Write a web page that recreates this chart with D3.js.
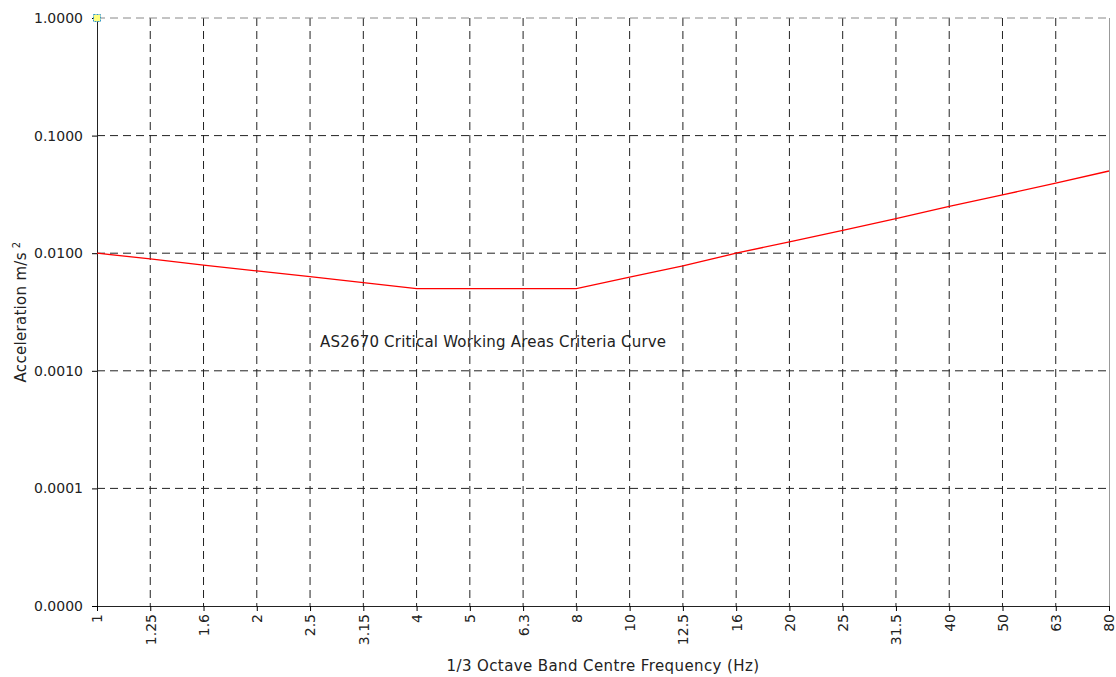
<!DOCTYPE html>
<html lang="en">
<head>
<meta charset="utf-8">
<title>AS2670 Criteria Curve</title>
<script src="https://d3js.org/d3.v7.min.js"></script>
<style>
  body { margin: 0; background: #fff; }
  text { font-family: "DejaVu Sans", sans-serif; fill: #222; }
</style>
</head>
<body>
<script>
// 1/3 octave band centre frequencies (Hz)
var freqs = ["1", "1.25", "1.6", "2", "2.5", "3.15", "4", "5", "6.3", "8",
             "10", "12.5", "16", "20", "25", "31.5", "40", "50", "63", "80"];

// AS2670 critical working areas curve, m/s^2
var criteria = [0.0100, 0.00894, 0.00791, 0.00707, 0.00632, 0.00563, 0.0050, 0.0050, 0.0050, 0.0050,
                0.00625, 0.00781, 0.0100, 0.0125, 0.0156, 0.0197, 0.0250, 0.0313, 0.0394, 0.0500];

// single measured marker at top left
var marker = [{f: "1", a: 1.0}];

var yTicks = [0.00001, 0.0001, 0.001, 0.01, 0.1, 1];
var yTickLabels = ["0.0000", "0.0001", "0.0010", "0.0100", "0.1000", "1.0000"];

var w = 1116, h = 677;
var pLeft = 97, pRight = 1109, pTop = 18, pBottom = 606;

var x = d3.scalePoint().domain(freqs).range([pLeft, pRight]);
var y = d3.scaleLog().domain([0.00001, 1]).range([pBottom, pTop]);

var svg = d3.select("body").append("svg").attr("width", w).attr("height", h);

// gridlines
svg.append("g").selectAll("line")
  .data(freqs.slice(1, -1))
  .enter().append("line")
  .attr("x1", function(d) { return x(d); })
  .attr("x2", function(d) { return x(d); })
  .attr("y1", pTop).attr("y2", pBottom)
  .attr("stroke", "#222").attr("stroke-dasharray", "8,5");

svg.append("g").selectAll("line")
  .data(yTicks.slice(1))
  .enter().append("line")
  .attr("x1", pLeft).attr("x2", pRight)
  .attr("y1", function(d) { return y(d); })
  .attr("y2", function(d) { return y(d); })
  .attr("stroke", function(d) { return d === 1 ? "#888" : "#222"; })
  .attr("stroke-dasharray", "8,5");

// right border
svg.append("line")
  .attr("x1", pRight + 0.5).attr("x2", pRight + 0.5)
  .attr("y1", pTop).attr("y2", pBottom)
  .attr("stroke", "#999");

// axes
var yAxis = d3.axisLeft(y).tickValues(yTicks)
  .tickFormat(function(d, i) { return yTickLabels[i]; })
  .tickSize(5).tickPadding(9);
var gy = svg.append("g").attr("transform", "translate(" + pLeft + ",0)").call(yAxis);
gy.select(".domain").attr("stroke", "#222");
gy.selectAll("text").style("font-size", "14px").attr("fill", "#222");

var xAxis = d3.axisBottom(x).tickSize(5).tickPadding(6);
var gx = svg.append("g").attr("transform", "translate(0," + pBottom + ")").call(xAxis);
gx.select(".domain").attr("stroke", "#222");
gx.selectAll("text")
  .style("font-size", "14px").attr("fill", "#222")
  .attr("transform", "rotate(-90)")
  .attr("text-anchor", "end")
  .attr("x", -8).attr("y", 0).attr("dy", "0.35em");

// criteria curve
var line = d3.line()
  .x(function(d, i) { return x(freqs[i]); })
  .y(function(d) { return y(d); });

svg.append("path")
  .datum(criteria)
  .attr("d", line)
  .attr("fill", "none")
  .attr("stroke", "#ff0000")
  .attr("stroke-width", 1.3);

// marker
svg.selectAll(".marker")
  .data(marker)
  .enter().append("rect")
  .attr("class", "marker")
  .attr("x", function(d) { return x(d.f) - 3.5; })
  .attr("y", function(d) { return y(d.a) - 3.5; })
  .attr("width", 7).attr("height", 7)
  .attr("fill", "#ffff80")
  .attr("stroke", "#3399cc").attr("stroke-width", 1)
  .attr("stroke-dasharray", "2,1");

// curve label
svg.append("text")
  .attr("x", 320).attr("y", 347)
  .style("font-size", "15px").style("letter-spacing", "0.2px")
  .text("AS2670 Critical Working Areas Criteria Curve");

// axis titles
svg.append("text")
  .attr("x", (pLeft + pRight) / 2).attr("y", 671)
  .attr("text-anchor", "middle")
  .style("font-size", "15px").style("letter-spacing", "0.4px")
  .text("1/3 Octave Band Centre Frequency (Hz)");

var yt = svg.append("text")
  .attr("transform", "translate(26,312) rotate(-90)")
  .attr("text-anchor", "middle")
  .style("font-size", "15px").style("letter-spacing", "0.3px");
yt.append("tspan").text("Acceleration m/s");
yt.append("tspan").attr("dy", "-0.6em").attr("dx", "4").style("font-size", "10px").text("2");
</script>
</body>
</html>
